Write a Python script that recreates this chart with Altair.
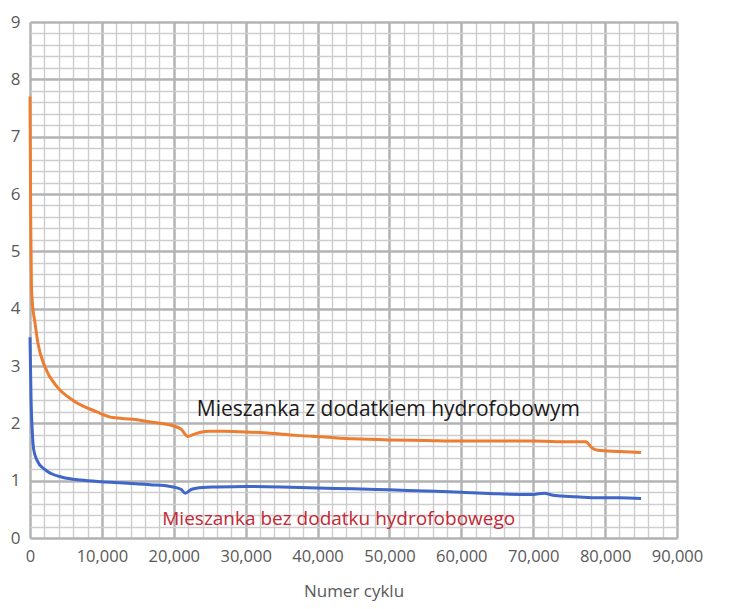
import altair as alt
import pandas as pd

# --- data ---
orange_x = [0, 100, 200, 300, 700, 1100, 2100, 3750, 6000, 9300, 11500, 14300, 17000,
            19500, 21000, 22000, 22600, 23600, 25000, 27000, 30000, 33000, 37000, 41000,
            45000, 50000, 55000, 60000, 65000, 70000, 75000, 77300, 78200, 79000, 82000, 85000]
orange_y = [7.7, 5.5, 4.4, 4.15, 3.75, 3.4, 2.98, 2.64, 2.4, 2.2, 2.1, 2.07, 2.02,
            1.97, 1.9, 1.77, 1.8, 1.84, 1.86, 1.86, 1.85, 1.83, 1.79, 1.76,
            1.73, 1.71, 1.70, 1.69, 1.69, 1.69, 1.68, 1.68, 1.57, 1.53, 1.51, 1.49]

blue_x = [0, 150, 300, 500, 1000, 2000, 3000, 4500, 7000, 10000, 13000, 16700, 19500,
          21000, 21600, 22500, 24000, 26000, 30000, 35000, 40000, 45000, 50000, 55000,
          60000, 65000, 70000, 71500, 73000, 76000, 79000, 82000, 85000]
blue_y = [3.5, 2.4, 1.9, 1.55, 1.35, 1.2, 1.12, 1.06, 1.01, 0.98, 0.96, 0.93, 0.9,
          0.85, 0.78, 0.85, 0.88, 0.89, 0.9, 0.89, 0.87, 0.86, 0.84, 0.82,
          0.80, 0.77, 0.76, 0.78, 0.74, 0.72, 0.70, 0.70, 0.69]

series_names = ["Mieszanka z dodatkiem hydrofobowym", "Mieszanka bez dodatku hydrofobowego"]
series_colors = ["#ed7d31", "#3f66c8"]
label_colors = ["#1a1a1a", "#c62835"]

x_tick_values = [i * 2000 for i in range(46)]
y_tick_values = [round(i * 0.2, 1) for i in range(46)]
x_title = "Numer cyklu"

rows = []
for xv, yv in zip(orange_x, orange_y):
    rows.append({"x": xv, "y": yv, "s": series_names[0]})
for xv, yv in zip(blue_x, blue_y):
    rows.append({"x": xv, "y": yv, "s": series_names[1]})
df = pd.DataFrame(rows)

FONT = "Open Sans"
major_grid = "#b3b3b3"
minor_grid = "#cdcdcd"

x_axis = alt.Axis(
    values=x_tick_values,
    tickCount=200,
    labelExpr="datum.value % 10000 === 0 ? format(datum.value, ',') : ''",
    title=x_title,
    grid=True,
    gridColor={"condition": {"test": "datum.value % 10000 === 0", "value": major_grid}, "value": minor_grid},
    gridWidth={"condition": {"test": "datum.value % 10000 === 0", "value": 2.5}, "value": 1.4},
    domain=False,
    ticks=False,
    labelOverlap=False,
    labelFlush=False,
    labelPadding=10,
    labelFont=FONT,
    labelFontSize=16.5,
    labelColor="#595959",
    titleFont=FONT,
    titleFontSize=17,
    titleFontWeight="normal",
    titleColor="#595959",
    titlePadding=19,
)
y_axis = alt.Axis(
    values=y_tick_values,
    tickCount=200,
    labelExpr="abs(datum.value - round(datum.value)) < 0.01 ? format(datum.value, 'd') : ''",
    title=None,
    grid=True,
    gridColor={"condition": {"test": "abs(datum.value - round(datum.value)) < 0.01", "value": major_grid}, "value": minor_grid},
    gridWidth={"condition": {"test": "abs(datum.value - round(datum.value)) < 0.01", "value": 2.5}, "value": 1.4},
    domain=False,
    ticks=False,
    labelOverlap=False,
    labelFlush=False,
    labelPadding=10,
    labelFont=FONT,
    labelFontSize=17,
    labelColor="#595959",
)

lines = alt.Chart(df).mark_line(strokeWidth=3, interpolate="monotone").encode(
    x=alt.X("x:Q", scale=alt.Scale(domain=[0, 90000], nice=False), axis=x_axis),
    y=alt.Y("y:Q", scale=alt.Scale(domain=[0, 9], nice=False), axis=y_axis),
    color=alt.Color("s:N", scale=alt.Scale(domain=series_names, range=series_colors), legend=None),
    order=alt.Order("x:Q"),
)

text_top = alt.Chart().mark_text(
    text=series_names[0], align="left", baseline="middle",
    font=FONT, fontSize=21, color=label_colors[0]
).encode(x=alt.datum(23200), y=alt.datum(2.23))

text_bot = alt.Chart().mark_text(
    text=series_names[1], align="left", baseline="middle",
    font=FONT, fontSize=19, color=label_colors[1]
).encode(x=alt.datum(18400), y=alt.datum(0.33))

chart = alt.layer(lines, text_top, text_bot).properties(
    width=647,
    height=516,
    autosize=alt.AutoSizeParams(type="none"),
    padding={"left": 22, "top": 14, "right": 30, "bottom": 72},
    background="white",
).configure_view(stroke=None)

chart.save("out.html", embed_options={"renderer": "svg", "actions": False})
